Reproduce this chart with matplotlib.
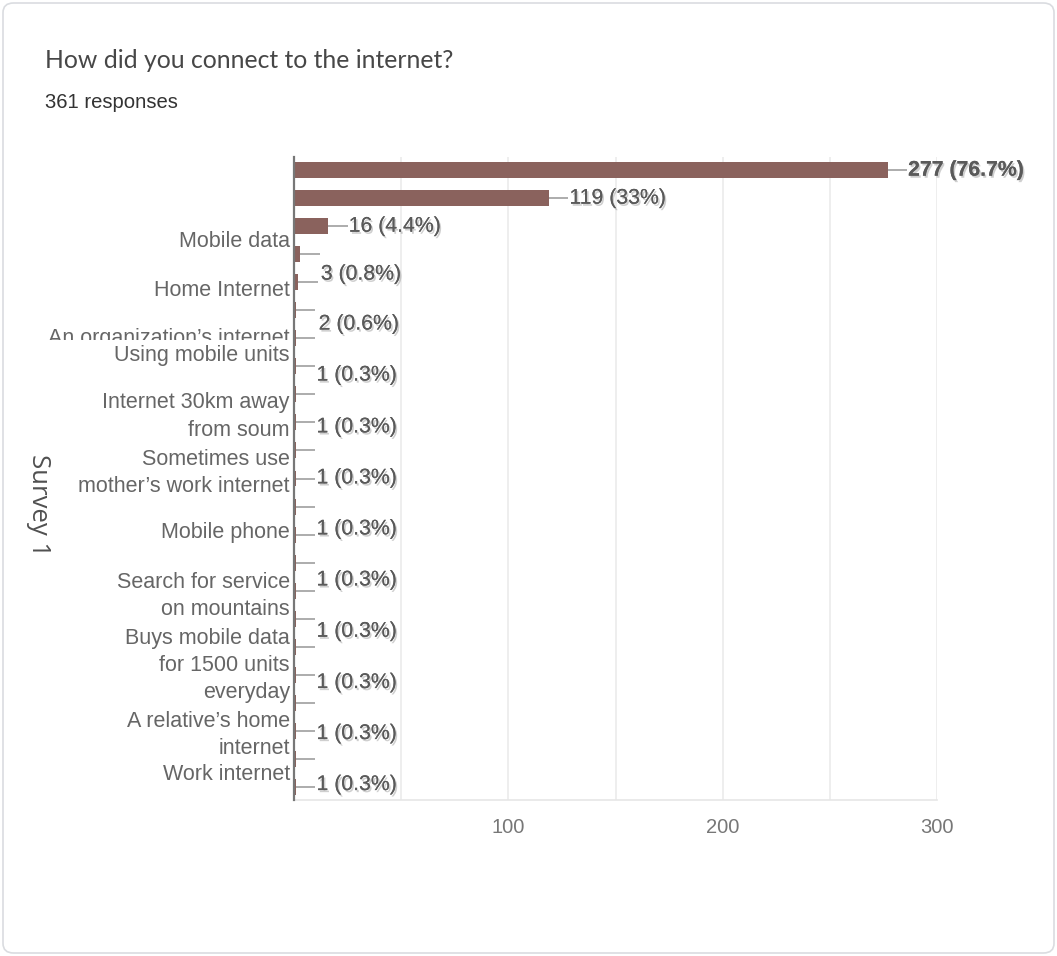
import matplotlib.pyplot as plt
import matplotlib.patheffects as pe
from matplotlib.patches import FancyBboxPatch
from matplotlib.transforms import Bbox

# bar rows (top to bottom)
counts = [277, 119, 16, 3, 2] + [1] * 18
total = 361

# value labels shown on the chart and the row they sit on
label_counts = [277, 119, 16, 3, 2, 1, 1, 1, 1, 1, 1, 1, 1, 1]
label_rows = [0, 1, 2, 3.71, 5.49, 7.31, 9.16, 10.98, 12.8, 14.62, 16.45, 18.28, 20.1, 21.92]

categories = [
    "Mobile data",
    "Home Internet",
    "An organization\u2019s internet",
    "Using mobile units",
    "Internet 30km away\nfrom soum",
    "Sometimes use\nmother\u2019s work internet",
    "Mobile phone",
    "Search for service\non mountains",
    "Buys mobile data\nfor 1500 units\neveryday",
    "A relative\u2019s home\ninternet",
    "Work internet",
]
category_rows = [2.46, 4.21, 5.92, 6.52, 8.59, 10.59, 12.83, 14.99, 17.47, 19.95, 21.46]

xticks = [100, 200, 300]

W, H = 1057, 956
fig = plt.figure(figsize=(W / 100, H / 100), dpi=100)
fig.patches.append(FancyBboxPatch((3 / W, 3 / H), 1051 / W, 950 / H,
                                  boxstyle="round,pad=0,rounding_size=0.01",
                                  transform=fig.transFigure, facecolor="white",
                                  edgecolor="#dadce0", linewidth=1.2, zorder=-1))

ax = fig.add_axes([294 / W, 156 / H, 643 / W, 643 / H])
ax.set_facecolor("none")

rows = list(range(len(counts)))
ax.barh(rows, counts, height=0.57, color="#8a625d", zorder=3)

# leader lines
for r, c in zip(rows, counts):
    ax.plot([c, c + 9], [r, r], color="#a6a6a6", lw=1.3, zorder=2, solid_capstyle="butt")

shadow = [pe.withSimplePatchShadow(offset=(1.2, -1.5), shadow_rgbFace="#888888", alpha=0.4), pe.Normal()]
for c, r in zip(label_counts, label_rows):
    pct = 100 * c / total
    txt = f"{c} ({pct:.0f}%)" if abs(pct - round(pct)) < 0.05 else f"{c} ({pct:.1f}%)"
    ax.text(c + 9.5, r, txt, ha="left", va="center", fontsize=15.3,
            family="Liberation Sans", color="#5a5a5a", zorder=4,
            fontweight="bold" if c == max(label_counts) else "normal",
            path_effects=shadow)

ax.set_xlim(0, 300)
ax.set_ylim(22.47, -0.47)
ax.set_xticks([50, 100, 150, 200, 250, 300])
ax.set_xticklabels(["" if t not in xticks else str(t) for t in [50, 100, 150, 200, 250, 300]],
                   family="Liberation Sans", fontsize=14.5, color="#777777")
ax.tick_params(axis="x", length=0, pad=13)
ax.grid(axis="x", color="#ebebeb", lw=1.2, zorder=0)

ax.set_yticks(category_rows)
ax.set_yticklabels(categories, family="Liberation Sans", fontsize=15.5,
                   color="#666666", linespacing=1.38)
ax.tick_params(axis="y", length=0, pad=3)

# clip the overlapped label like in the original
lbl = ax.get_yticklabels()[2]
lbl.set_clip_box(Bbox([[0, H - 340], [W, H]]))
lbl.set_clip_on(True)

for s in ["top", "right"]:
    ax.spines[s].set_visible(False)
ax.spines["left"].set_color("#777777")
ax.spines["left"].set_linewidth(1.6)
ax.spines["left"].set_zorder(5)
ax.spines["bottom"].set_color("#e6e6e6")
ax.spines["bottom"].set_linewidth(1.2)

fig.text(45 / W, 1 - 60 / H, "How did you connect to the internet?", family="Lato",
         fontsize=17.8, color="#474747", ha="left", va="center")
fig.text(45 / W, 1 - 103 / H, "361 responses", family="Liberation Sans",
         fontsize=14.6, color="#333333", ha="left", va="center")
fig.text(38 / W, 1 - 505 / H, "Survey 1", family="Open Sans", fontsize=18.5,
         color="#505050", rotation=-90, ha="center", va="center")

fig.savefig("out.png", dpi=100)
